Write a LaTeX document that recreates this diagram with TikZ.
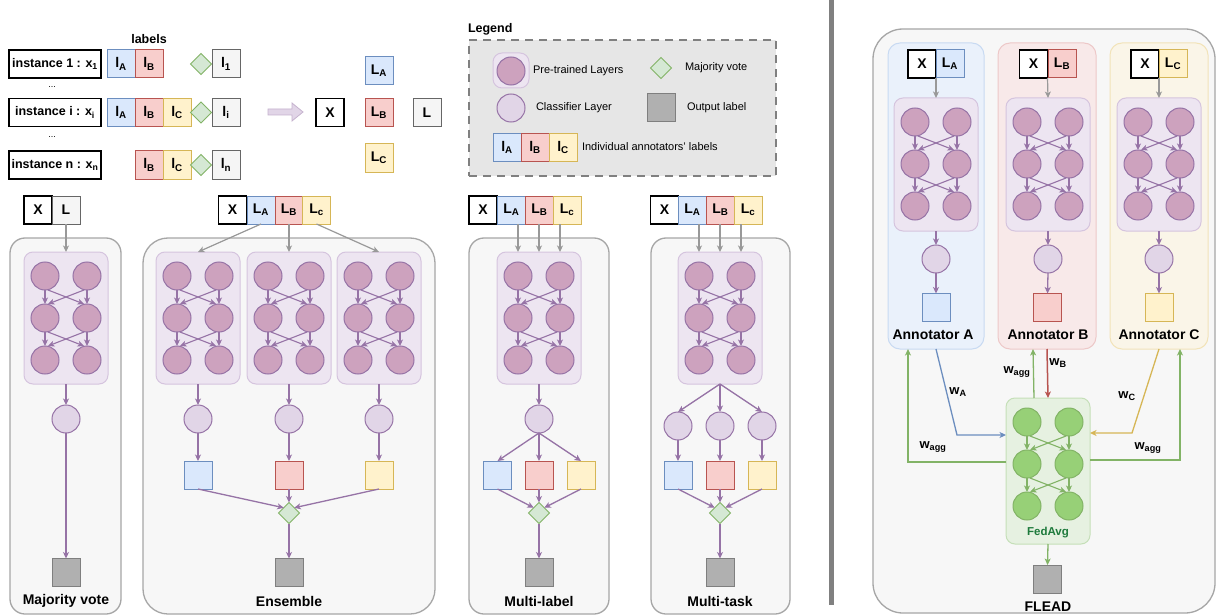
\documentclass[tikz,border=0pt]{standalone}
\usepackage{fontspec}
\setmainfont{Liberation Sans}
\usetikzlibrary{arrows.meta,calc,shapes.geometric}
\definecolor{purS}{HTML}{9673A6}
\definecolor{purF}{HTML}{E1D5E7}
\definecolor{purD}{HTML}{CDA2BE}
\definecolor{blkF}{HTML}{EDE5F1}
\definecolor{blkS}{HTML}{D5C4DE}
\definecolor{bluF}{HTML}{DAE8FC}
\definecolor{bluS}{HTML}{6C8EBF}
\definecolor{redF}{HTML}{F8CECC}
\definecolor{redS}{HTML}{B85450}
\definecolor{yelF}{HTML}{FFF2CC}
\definecolor{yelS}{HTML}{D6B656}
\definecolor{grnF}{HTML}{D5E8D4}
\definecolor{grnS}{HTML}{82B366}
\definecolor{grnC}{HTML}{97D077}
\definecolor{gryF}{HTML}{F5F5F5}
\definecolor{gryS}{HTML}{666666}
\definecolor{outF}{HTML}{B0B0B0}
\definecolor{outS}{HTML}{7F7F7F}
\definecolor{panF}{HTML}{F7F7F7}
\definecolor{panS}{HTML}{A6A6A6}
\definecolor{legF}{HTML}{E6E6E6}
\definecolor{legS}{HTML}{808080}
\definecolor{arrG}{HTML}{999999}
\definecolor{sepC}{HTML}{808080}
\definecolor{fedF}{HTML}{E6F1E1}
\definecolor{fedS}{HTML}{C5DFB8}
\definecolor{fedT}{HTML}{1E7A3C}
\definecolor{colAF}{HTML}{EAF1FB}
\definecolor{colAS}{HTML}{C8DAF2}
\definecolor{colBF}{HTML}{F8E9E9}
\definecolor{colBS}{HTML}{EDC8C8}
\definecolor{colCF}{HTML}{FAF5E8}
\definecolor{colCS}{HTML}{F2E3B8}
\tikzset{
  every node/.style={inner sep=0pt, outer sep=0pt},
  >={Stealth[length=6.5pt,width=6pt,inset=1.8pt]},
  panel/.style={draw=panS, fill=panF, line width=1.3pt, anchor=north west},
  blk/.style={draw=blkS, fill=blkF, line width=1pt, rounded corners=9},
  fblk/.style={draw=fedS, fill=fedF, line width=1pt, rounded corners=9},
  neur/.style={circle, draw=purS, fill=purD, line width=1pt, minimum size=28},
  gneur/.style={circle, draw=grnS, fill=grnC, line width=1pt, minimum size=28},
  cls/.style={circle, draw=purS, fill=purF, line width=1pt, minimum size=28},
  parr/.style={->, draw=purS, line width=1.3pt},
  pin/.style={->, draw=purS, line width=1.1pt},
  gin/.style={->, draw=grnS, line width=1.1pt},
  grarr/.style={->, draw=arrG, line width=1.2pt},
  garr/.style={->, draw=grnS, line width=1.3pt},
  sq/.style={draw, line width=1pt, minimum size=28},
  bsq/.style={sq, draw=bluS, fill=bluF},
  rsq/.style={sq, draw=redS, fill=redF},
  ysq/.style={sq, draw=yelS, fill=yelF},
  lsq/.style={sq, draw=gryS, fill=gryF},
  osq/.style={sq, draw=outS, fill=outF},
  dia/.style={diamond, draw=grnS, fill=grnF, line width=1pt, minimum width=21, minimum height=21},
  lab/.style={font=\bfseries\fontsize{14}{14}\selectfont},
  xb/.style={sq, lab, draw=black, line width=1.3pt, fill=white},
  inst/.style={draw=black, line width=1.5pt, fill=white, minimum width=92, minimum height=28, font=\bfseries\fontsize{12.5}{14}\selectfont},
  ttl/.style={font=\bfseries\fontsize{14}{16}\selectfont},
  hd/.style={font=\bfseries\fontsize{12.5}{14}\selectfont},
  lt/.style={anchor=west, font=\fontsize{11}{13}\selectfont},
  wl/.style={font=\bfseries\fontsize{13}{15}\selectfont},
}
\newcommand{\netblock}[7]{%
  \node[#5, anchor=north west, minimum width=84, minimum height=#4] (#1) at (#2,#3) {};
  \node[#6] (#1a) at (#2+21,#3+24) {};
  \node[#6] (#1b) at (#2+63,#3+24) {};
  \node[#6] (#1c) at (#2+21,#3+66) {};
  \node[#6] (#1d) at (#2+63,#3+66) {};
  \node[#6] (#1e) at (#2+21,#3+108) {};
  \node[#6] (#1f) at (#2+63,#3+108) {};
  \draw[#7] (#1a.south) -- (#1c.north);
  \draw[#7] (#1b.south) -- (#1d.north);
  \draw[#7] (#1c.south) -- (#1e.north);
  \draw[#7] (#1d.south) -- (#1f.north);
  \draw[#7] ($(#1a.south)+(3,0)$) -- ($(#1d.north)+(-3,0)$);
  \draw[#7] ($(#1b.south)+(-3,0)$) -- ($(#1c.north)+(3,0)$);
  \draw[#7] ($(#1c.south)+(3,0)$) -- ($(#1f.north)+(-3,0)$);
  \draw[#7] ($(#1d.south)+(-3,0)$) -- ($(#1e.north)+(3,0)$);
}
\begin{document}
\begin{tikzpicture}[x=1pt,y=-1pt]
\useasboundingbox (0,0) rectangle (1218,615);
\fill[white] (0,0) rectangle (1218,615);

% ---------------- top-left: instances ----------------
\node[hd] (labels) at (149,39) {labels};
\node[inst] (i1) at (55,64) {instance 1 : x\textsubscript{1}};
\node[bsq,lab] (i1A) at (121,64) {l\textsubscript{A}};
\node[rsq,lab] (i1B) at (149,64) {l\textsubscript{B}};
\node[dia] (d1) at (201,64) {};
\node[lsq,lab] (l1) at (226,64) {l\textsubscript{1}};
\node[font=\fontsize{9}{9}\selectfont] (dt1) at (52,87) {...};
\node[inst] (ii) at (55,112.5) {instance i : x\textsubscript{i}};
\node[bsq,lab] (iiA) at (121,112.5) {l\textsubscript{A}};
\node[rsq,lab] (iiB) at (149,112.5) {l\textsubscript{B}};
\node[ysq,lab] (iiC) at (177,112.5) {l\textsubscript{C}};
\node[dia] (di) at (201,112.5) {};
\node[lsq,lab] (li) at (226,112.5) {l\textsubscript{i}};
\node[font=\fontsize{9}{9}\selectfont] (dt2) at (52,137) {...};
\node[inst] (in) at (55,165) {instance n : x\textsubscript{n}};
\node[rsq,lab] (inB) at (149,165) {l\textsubscript{B}};
\node[ysq,lab] (inC) at (177,165) {l\textsubscript{C}};
\node[dia] (dn) at (201,165) {};
\node[lsq,lab] (ln) at (226,165) {l\textsubscript{n}};
\draw[draw=purS!55, fill=purF, line width=0.8pt] (268,109) -- (292,109) -- (292,103) -- (303,112) -- (292,121) -- (292,115) -- (268,115) -- cycle;
\node[xb] (tX) at (330,112.5) {X};
\node[bsq,lab] (tLA) at (379,71) {L\textsubscript{A}};
\node[rsq,lab] (tLB) at (379,112.5) {L\textsubscript{B}};
\node[ysq,lab] (tLC) at (379,158) {L\textsubscript{C}};
\node[lsq,lab] (tL) at (427,112.5) {L};

% ---------------- legend ----------------
\node[hd, anchor=west] (legT) at (468,29) {Legend};
\node[draw=legS, fill=legF, dash pattern=on 8pt off 6pt, line width=1.3pt, anchor=north west, minimum width=307, minimum height=136] (legB) at (469,40) {};
\node[blk, minimum width=36, minimum height=35] (lgBlk) at (511,70.5) {};
\node[neur] (lgN) at (511,71) {};
\node[lt] (lgNt) at (533,71) {Pre-trained Layers};
\node[cls] (lgC) at (511,108) {};
\node[lt] (lgCt) at (536,108) {Classifier Layer};
\node[dia] (lgD) at (661,68) {};
\node[lt] (lgDt) at (685,68) {Majority vote};
\node[osq] (lgO) at (661,108) {};
\node[lt] (lgOt) at (687,108) {Output label};
\node[bsq,lab] (lgA) at (507,147.5) {l\textsubscript{A}};
\node[rsq,lab] (lgB2) at (535,147.5) {l\textsubscript{B}};
\node[ysq,lab] (lgC2) at (563,147.5) {l\textsubscript{C}};
\node[lt] (lgLt) at (582,147) {Individual annotators' labels};

% ---------------- Majority vote ----------------
\node[panel, rounded corners=15, minimum width=111, minimum height=376] (mvP) at (10,238) {};
\node[xb] (mvX) at (38,210) {X};
\node[lsq,lab] (mvL) at (66,210) {L};
\netblock{mvN}{24}{252}{132}{blk}{neur}{pin}
\node[cls] (mvC) at (66,419) {};
\node[osq] (mvO) at (66,572.5) {};
\node[ttl] (mvT) at (66,601) {Majority vote};
\draw[grarr] (mvL.south) -- (mvN.north);
\draw[parr] (mvN.south) -- (mvC.north);
\draw[parr] (mvC.south) -- (mvO.north);

% ---------------- Ensemble ----------------
\node[panel, rounded corners=25, minimum width=292, minimum height=376] (enP) at (143,238) {};
\node[xb] (enX) at (232.5,210) {X};
\node[bsq,lab] (enLA) at (261,210) {L\textsubscript{A}};
\node[rsq,lab] (enLB) at (289,210) {L\textsubscript{B}};
\node[ysq,lab] (enLC) at (316.5,210) {L\textsubscript{c}};
\netblock{enN1}{156}{252}{132}{blk}{neur}{pin}
\netblock{enN2}{247}{252}{132}{blk}{neur}{pin}
\netblock{enN3}{337}{252}{132}{blk}{neur}{pin}
\node[cls] (enC1) at (198,419) {};
\node[cls] (enC2) at (289,419) {};
\node[cls] (enC3) at (379,419) {};
\node[bsq] (enS1) at (198,475) {};
\node[rsq] (enS2) at (289,475) {};
\node[ysq] (enS3) at (379,475) {};
\node[dia] (enD) at (289,513) {};
\node[osq] (enO) at (289,572.5) {};
\node[ttl] (enT) at (289,601) {Ensemble};
\draw[grarr] (enLA.south) -- (enN1.north);
\draw[grarr] (enLB.south) -- (enN2.north);
\draw[grarr] (enLC.south) -- (enN3.north);
\foreach \k in {1,2,3}{
  \draw[parr] (enN\k.south) -- (enC\k.north);
  \draw[parr] (enC\k.south) -- (enS\k.north);
}
\draw[parr] (enS1.south) -- (enD.north west);
\draw[parr] (enS2.south) -- (enD.north);
\draw[parr] (enS3.south) -- (enD.north east);
\draw[parr] (enD.south) -- (enO.north);

% ---------------- Multi-label ----------------
\node[panel, rounded corners=15, minimum width=140, minimum height=376] (mlP) at (469,238) {};
\node[xb] (mlX) at (483,210) {X};
\node[bsq,lab] (mlLA) at (511.5,210) {L\textsubscript{A}};
\node[rsq,lab] (mlLB) at (539.5,210) {L\textsubscript{B}};
\node[ysq,lab] (mlLC) at (567,210) {L\textsubscript{c}};
\netblock{mlN}{497}{252}{132}{blk}{neur}{pin}
\node[cls] (mlC) at (539,419) {};
\node[bsq] (mlS1) at (497.5,475) {};
\node[rsq] (mlS2) at (539,475) {};
\node[ysq] (mlS3) at (581,475) {};
\node[dia] (mlD) at (539,513) {};
\node[osq] (mlO) at (539,572.5) {};
\node[ttl] (mlT) at (539,601) {Multi-label};
\draw[grarr] (mlLA.south -| mlNa) -- (mlN.north -| mlNa);
\draw[grarr] (mlLB.south -| mlN) -- (mlN.north);
\draw[grarr] (mlLC.south -| mlNb) -- (mlN.north -| mlNb);
\draw[parr] (mlN.south) -- (mlC.north);
\draw[parr] (mlC.south) -- (mlS1.north);
\draw[parr] (mlC.south) -- (mlS2.north);
\draw[parr] (mlC.south) -- (mlS3.north);
\draw[parr] (mlS1.south) -- (mlD.north west);
\draw[parr] (mlS2.south) -- (mlD.north);
\draw[parr] (mlS3.south) -- (mlD.north east);
\draw[parr] (mlD.south) -- (mlO.north);

% ---------------- Multi-task ----------------
\node[panel, rounded corners=15, minimum width=139, minimum height=376] (mtP) at (651,238) {};
\node[xb] (mtX) at (664.5,210) {X};
\node[bsq,lab] (mtLA) at (692.5,210) {L\textsubscript{A}};
\node[rsq,lab] (mtLB) at (720.5,210) {L\textsubscript{B}};
\node[ysq,lab] (mtLC) at (748,210) {L\textsubscript{c}};
\netblock{mtN}{678}{252}{132}{blk}{neur}{pin}
\node[cls] (mtC1) at (678,426) {};
\node[cls] (mtC2) at (720,426) {};
\node[cls] (mtC3) at (762,426) {};
\node[bsq] (mtS1) at (678,475) {};
\node[rsq] (mtS2) at (720,475) {};
\node[ysq] (mtS3) at (762,475) {};
\node[dia] (mtD) at (720,513) {};
\node[osq] (mtO) at (720,572.5) {};
\node[ttl] (mtT) at (720,601) {Multi-task};
\draw[grarr] (mtLA.south -| mtNa) -- (mtN.north -| mtNa);
\draw[grarr] (mtLB.south -| mtN) -- (mtN.north);
\draw[grarr] (mtLC.south -| mtNb) -- (mtN.north -| mtNb);
\foreach \k in {1,2,3}{
  \draw[parr] (mtN.south) -- (mtC\k.north);
  \draw[parr] (mtC\k.south) -- (mtS\k.north);
}
\draw[parr] (mtS1.south) -- (mtD.north west);
\draw[parr] (mtS2.south) -- (mtD.north);
\draw[parr] (mtS3.south) -- (mtD.north east);
\draw[parr] (mtD.south) -- (mtO.north);

% ---------------- separator ----------------
\coordinate (sepT) at (831.5,0);
\coordinate (sepB) at (831.5,605);
\draw[sepC, line width=5pt] (sepT) -- (sepB);

% ---------------- FLEAD ----------------
\node[panel, rounded corners=30, minimum width=342, minimum height=584] (flP) at (873,29) {};
\node[draw=colAS, fill=colAF, line width=1pt, rounded corners=12, anchor=north west, minimum width=96, minimum height=306] (colA) at (888,43) {};
\node[draw=colBS, fill=colBF, line width=1pt, rounded corners=12, anchor=north west, minimum width=98, minimum height=306] (colB) at (998,43) {};
\node[draw=colCS, fill=colCF, line width=1pt, rounded corners=12, anchor=north west, minimum width=98, minimum height=306] (colC) at (1110,43) {};
% annotator A
\node[xb] (faX) at (922,64) {X};
\node[bsq,lab] (faL) at (950,64) {L\textsubscript{A}};
\netblock{faN}{894}{98}{133}{blk}{neur}{pin}
\node[cls] (faC) at (936,259) {};
\node[bsq] (faS) at (936,307.5) {};
\node[ttl] (faT) at (933,335) {Annotator A};
\draw[grarr] (faX.south east) -- (faN.north);
\draw[parr] (faN.south) -- (faC.north);
\draw[parr] (faC.south) -- (faS.north);
% annotator B
\node[xb] (fbX) at (1033.5,64) {X};
\node[rsq,lab] (fbL) at (1062,64) {L\textsubscript{B}};
\netblock{fbN}{1006}{98}{133}{blk}{neur}{pin}
\node[cls] (fbC) at (1048,259) {};
\node[rsq] (fbS) at (1047.5,307.5) {};
\node[ttl] (fbT) at (1048,335) {Annotator B};
\draw[grarr] (fbX.south east) -- (fbN.north);
\draw[parr] (fbN.south) -- (fbC.north);
\draw[parr] (fbC.south) -- (fbS.north);
% annotator C
\node[xb] (fcX) at (1145,64) {X};
\node[ysq,lab] (fcL) at (1173,64) {L\textsubscript{C}};
\netblock{fcN}{1117}{98}{133}{blk}{neur}{pin}
\node[cls] (fcC) at (1159,259) {};
\node[ysq] (fcS) at (1159,307.5) {};
\node[ttl] (fcT) at (1159,335) {Annotator C};
\draw[grarr] (fcX.south east) -- (fcN.north);
\draw[parr] (fcN.south) -- (fcC.north);
\draw[parr] (fcC.south) -- (fcS.north);
% FedAvg
\netblock{fed}{1006}{398}{146}{fblk}{gneur}{gin}
\node[font=\bfseries\fontsize{11.5}{13}\selectfont, text=fedT] (fedT) at (1048,533) {FedAvg};
\node[osq] (flO) at (1047.5,579) {};
\node[ttl] (flT) at (1048,607) {FLEAD};
\draw[garr] (fed.south) -- (flO.north);
% weight exchanges
\draw[->, draw=redS, line width=1.5pt] (colB.south) -- (fed.north);
\draw[garr] ($(fed.north)+(-14,0)$) -- ($(colB.south)+(-14,0)$);
\draw[->, draw=bluS, line width=1.3pt] (colA.south) -- (957,435) -- (fed.west |- 0,435);
\draw[garr] (fed.west |- 0,462) -- (908,462) -- (colA.south -| 908,0);
\draw[->, draw=yelS, line width=1.3pt] (colC.south) -- (1132,433) -- (fed.east |- 0,433);
\draw[garr] (fed.east |- 0,460) -- (1180,460) -- (colC.south -| 1180,0);
\node[wl] (wA) at (958,392) {w\textsubscript{A}};
\node[wl] (wagg1) at (933,447) {w\textsubscript{agg}};
\node[wl] (wagg2) at (1017,372) {w\textsubscript{agg}};
\node[wl] (wB) at (1058,363) {w\textsubscript{B}};
\node[wl] (wC) at (1127,396) {w\textsubscript{C}};
\node[wl] (wagg3) at (1148,448) {w\textsubscript{agg}};
\end{tikzpicture}
\end{document}
